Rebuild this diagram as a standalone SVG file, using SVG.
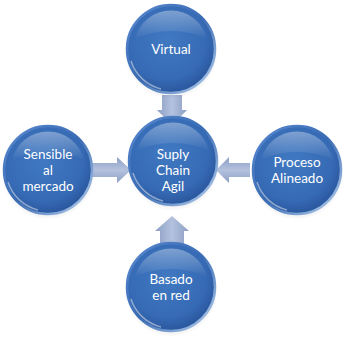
<svg xmlns="http://www.w3.org/2000/svg" width="343" height="344" viewBox="0 0 343 344">
<defs>
<radialGradient id="ball" cx="0.45" cy="0.4" r="0.6">
<stop offset="0" stop-color="#4079c2"/>
<stop offset="0.75" stop-color="#366ab4"/>
<stop offset="1" stop-color="#2a579e"/>
</radialGradient>
<linearGradient id="rim" x1="0" y1="0" x2="1" y2="1">
<stop offset="0" stop-color="#5a8ad0"/>
<stop offset="0.5" stop-color="#3a6cb4"/>
<stop offset="1" stop-color="#bcd4f0"/>
</linearGradient>
<linearGradient id="gloss" x1="0" y1="0" x2="0" y2="1">
<stop offset="0" stop-color="#ffffff" stop-opacity="0.35"/>
<stop offset="1" stop-color="#ffffff" stop-opacity="0"/>
</linearGradient>
<radialGradient id="shadow" cx="0.5" cy="0.5" r="0.5">
<stop offset="0.7" stop-color="#000" stop-opacity="0.15"/>
<stop offset="1" stop-color="#000" stop-opacity="0"/>
</radialGradient>
<linearGradient id="arrV" x1="0" y1="0" x2="1" y2="0">
<stop offset="0" stop-color="#8c9ec4"/>
<stop offset="0.5" stop-color="#b4c2de"/>
<stop offset="1" stop-color="#8c9ec4"/>
</linearGradient>
<linearGradient id="arrH" x1="0" y1="0" x2="0" y2="1">
<stop offset="0" stop-color="#8c9ec4"/>
<stop offset="0.5" stop-color="#b4c2de"/>
<stop offset="1" stop-color="#8c9ec4"/>
</linearGradient>
<g id="ballshape">
<circle cx="0" cy="3" r="47" fill="url(#shadow)"/>
<circle cx="0" cy="0" r="44" fill="url(#ball)" stroke="url(#rim)" stroke-width="2.5"/>
<path d="M -36 -10 A 37 37 0 0 1 36 -10 A 60 40 0 0 0 -36 -10 Z" fill="url(#gloss)"/>
<path d="M -40 12 A 42 42 0 0 0 -10 40" fill="none" stroke="#ffffff" stroke-opacity="0.45" stroke-width="1.5"/>
</g>
</defs>
<style>
text{font-family:Lato,"Open Sans","Liberation Sans",sans-serif;font-size:13.5px;fill:#ffffff;text-anchor:middle}
</style>
<g id="connectors">
<path d="M162 95 H182 V110 H187 L172 125 L157 110 H162 Z" fill="url(#arrV)"/>
<path d="M92 163 H117 V157 L131 170 L117 183 V177 H92 Z" fill="url(#arrH)"/>
<path d="M250 163 H229 V157 L216 170 L229 183 V177 H250 Z" fill="url(#arrH)"/>
<path d="M160 250 V231 H155 L172 216 L189 231 H184 V250 Z" fill="url(#arrV)"/>
</g>
<g id="node-virtual" transform="translate(171,49)">
<use href="#ballshape"/>
<text x="0" y="5">Virtual</text>
</g>
<g id="node-center" transform="translate(173,161)">
<use href="#ballshape"/>
<text x="0" y="-2">Suply</text>
<text x="0" y="14">Chain</text>
<text x="0" y="30">Agil</text>
</g>
<g id="node-sensible" transform="translate(48,170)">
<use href="#ballshape"/>
<text x="0" y="-11">Sensible</text>
<text x="0" y="5">al</text>
<text x="0" y="21">mercado</text>
</g>
<g id="node-proceso" transform="translate(297,170)">
<use href="#ballshape"/>
<text x="0" y="-3">Proceso</text>
<text x="0" y="13">Alineado</text>
</g>
<g id="node-basado" transform="translate(171,287)">
<use href="#ballshape"/>
<text x="0" y="-3">Basado</text>
<text x="0" y="13">en red</text>
</g>
</svg>
